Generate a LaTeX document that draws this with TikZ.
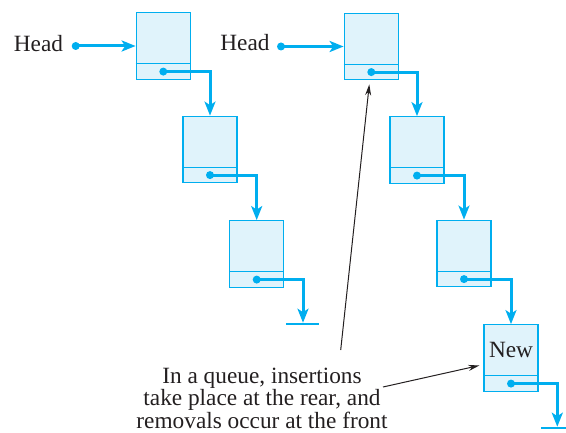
\documentclass[tikz,border=0pt]{standalone}
\usepackage{fontspec}
\setmainfont{Liberation Serif}
\usetikzlibrary{arrows.meta,calc}
\definecolor{qCyan}{HTML}{00AEEF}
\definecolor{qFill}{HTML}{E0F3FB}
\definecolor{qInk}{HTML}{231F20}
\tikzset{
  q diagram/.style={x=1pt, y=-1pt, text=qInk,
    font=\fontsize{23.3}{20.5}\selectfont},
  q box/.style={draw=qCyan, fill=qFill, line width=1.3pt,
    minimum width=54pt, minimum height=66.5pt, inner sep=0pt},
  q divider/.style={draw=qCyan, line width=1.1pt},
  q link/.style={-{Stealth[length=14pt,width=11pt,inset=3.5pt]}, draw=qCyan,
    line width=3pt},
  q ground/.style={draw=qCyan, line width=1.8pt},
  q note/.style={-{Stealth[length=11pt,width=6pt]}, draw=qInk, line width=1pt}
}

\begin{document}
\begin{tikzpicture}[q diagram]
\useasboundingbox (0,0) rectangle (566,433);
% the two lists
\foreach \nm/\x/\y in {a1/163.3/46, a2/210/149.5, a3/256.7/254,
    b1/371.3/46.5, b2/417/150, b3/464/253.5, b4/511/358}{
  \node[q box] (\nm) at (\x,\y) {};
  \draw[q divider] ([yshift=16.3pt]\nm.south west) -- ([yshift=16.3pt]\nm.south east);
  \coordinate (\nm p) at ([yshift=8.3pt]\nm.south);
}
\node (newlbl) at ([yshift=8pt]b4.center) {New};
% head pointers
\node (headA) at (38.5,44) {Head};
\node (headB) at (245,43) {Head};
\coordinate (headAp) at (75.7,46);
\coordinate (headBp) at (281,46.5);
\draw[q link] (headAp) -- (a1.west);
\draw[q link] (headBp) -- (b1.west);
% next pointers
\foreach \s/\t in {a1/a2, a2/a3, b1/b2, b2/b3, b3/b4}{
  \draw[q link] (\s p) -| (\t.north);
}
\coordinate (aend) at (303,323.7);
\coordinate (bend) at (557.3,427.7);
\draw[q link,shorten >=1pt] (a3p) -| (aend);
\draw[q link,shorten >=1pt] (b4p) -| (bend);
\draw[q ground] ([xshift=-17pt]aend) -- ([xshift=16pt]aend);
\draw[q ground] ([xshift=-16.5pt]bend) -- ([xshift=12pt]bend);
\foreach \nm in {a1,a2,a3,b1,b2,b3,b4,headA,headB}{
  \fill[qCyan] (\nm p) circle (4pt);
}
% annotation
\node[align=center] (note) at (262,398.5)
  {In a queue, insertions\\take place at the rear, and\\removals occur at the front};
\coordinate (noteA) at (340.7,350);
\coordinate (noteB) at (383,387);
\draw[q note] (noteA) -- ([xshift=-2pt,yshift=-4pt]b1.south);
\draw[q note] (noteB) -- ([xshift=-4pt,yshift=-7.5pt]b4.west);
\end{tikzpicture}
\end{document}
